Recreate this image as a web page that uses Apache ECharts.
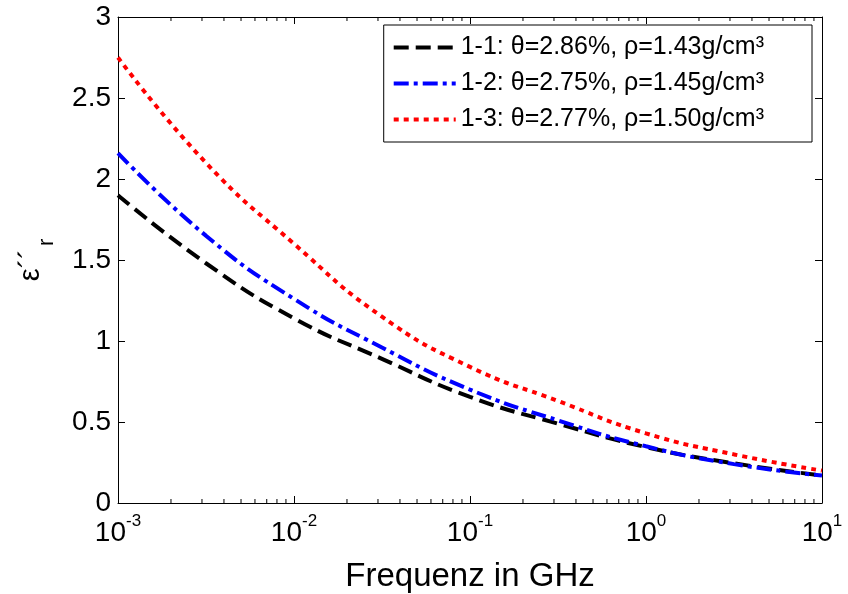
<!DOCTYPE html>
<html>
<head>
<meta charset="utf-8">
<script src="https://cdn.jsdelivr.net/npm/echarts@6/dist/echarts.min.js"></script>
<style>
  html, body { margin: 0; padding: 0; background: #fff; }
  #chart { width: 848px; height: 594px; }
</style>
</head>
<body>
<div id="chart"></div>
<script>
// frequency in GHz (log axis)
const freqs = [0.001, 0.00316, 0.01, 0.0316, 0.1, 0.316, 1, 3.16, 10];
const eps11 = [1.90, 1.48, 1.14, 0.89, 0.655, 0.49, 0.345, 0.245, 0.17];
const eps12 = [2.16, 1.65, 1.26, 0.96, 0.70, 0.51, 0.35, 0.24, 0.17];
const eps13 = [2.75, 2.10, 1.60, 1.15, 0.84, 0.63, 0.43, 0.30, 0.20];
const seriesNames = [
  '1-1: θ=2.86%, ρ=1.43g/cm³',
  '1-2: θ=2.75%, ρ=1.45g/cm³',
  '1-3: θ=2.77%, ρ=1.50g/cm³'
];
const yTicks = [0, 0.5, 1, 1.5, 2, 2.5, 3];

const font = 'Liberation Sans, Arial, sans-serif';
const pairs = (ys) => freqs.map((f, i) => [f, ys[i]]);

const chart = echarts.init(document.getElementById('chart'));

const logAxis = (show) => ({
  type: 'log',
  logBase: 10,
  min: 0.001,
  max: 10,
  axisLine: { show: true, onZero: false, lineStyle: { color: '#000', width: 1 } },
  axisTick: { show: true, inside: true, length: 7, lineStyle: { color: '#000' } },
  splitLine: { show: false },
  axisLabel: show ? {
    margin: 10,
    formatter: (v) => '{b|10}{s|' + Math.round(Math.log10(v)) + '}',
    rich: {
      b: { fontSize: 28, fontFamily: font, color: '#000', verticalAlign: 'bottom' },
      s: { fontSize: 17, fontFamily: font, color: '#000', verticalAlign: 'bottom', padding: [0, 0, 17, 0] }
    }
  } : { show: false }
});

const linAxis = (show) => ({
  type: 'value',
  min: 0,
  max: 3,
  interval: 0.5,
  axisLine: { show: true, lineStyle: { color: '#000', width: 1 } },
  axisTick: { show: true, inside: true, length: 7, lineStyle: { color: '#000' } },
  splitLine: { show: false },
  axisLabel: show ? {
    margin: 7,
    fontSize: 28,
    fontFamily: font,
    color: '#000',
    formatter: (v) => yTicks.includes(v) ? String(v) : ''
  } : { show: false }
});

const xBottom = logAxis(true);
xBottom.name = 'Frequenz in GHz';
xBottom.nameLocation = 'middle';
xBottom.nameGap = 57;
xBottom.nameTextStyle = { fontSize: 33, fontFamily: font, color: '#000' };
const xTop = logAxis(false);
xTop.position = 'top';

const yLeft = linAxis(true);
yLeft.name = '{e|ε´´}{r|r}';
yLeft.nameLocation = 'middle';
yLeft.nameGap = 60;
yLeft.nameTextStyle = {
  rich: {
    e: { fontSize: 29, fontFamily: font, color: '#000', verticalAlign: 'top' },
    r: { fontSize: 22, fontFamily: font, color: '#000', verticalAlign: 'top', padding: [20, 0, 0, 3] }
  }
};
const yRight = linAxis(false);
yRight.position = 'right';

const lineSeries = (name, ys, color, dash) => ({
  name: name,
  type: 'line',
  data: pairs(ys),
  smooth: true,
  showSymbol: false,
  symbol: 'none',
  lineStyle: { color: color, width: 4, type: dash, cap: 'butt' },
  itemStyle: { color: color },
  z: 3
});

chart.setOption({
  animation: false,
  backgroundColor: '#fff',
  grid: { left: 118, right: 26, top: 17, bottom: 91, outerBoundsMode: 'none', containLabel: false },
  legend: {
    orient: 'vertical',
    right: 36,
    top: 25,
    padding: [10, 48, 10, 8],
    itemGap: 11,
    itemWidth: 62,
    itemHeight: 25,
    borderColor: '#000',
    borderWidth: 1,
    backgroundColor: '#fff',
    itemStyle: { opacity: 0 },
    lineStyle: { width: 4 },
    textStyle: { fontSize: 25, fontFamily: font, color: '#000' },
    data: seriesNames
  },
  xAxis: [xBottom, xTop],
  yAxis: [yLeft, yRight],
  series: [
    lineSeries(seriesNames[0], eps11, '#000000', [15, 7]),
    lineSeries(seriesNames[1], eps12, '#0000ff', [15, 5, 4, 5]),
    lineSeries(seriesNames[2], eps13, '#ff0000', [5, 5])
  ]
});

// minor log ticks (2..9 per decade) on bottom and top axes, placed through the axis scale
const minor = [];
const yb = chart.convertToPixel({ yAxisIndex: 0 }, 0);
const yt = chart.convertToPixel({ yAxisIndex: 0 }, 3);
for (let d = -3; d < 1; d++) {
  for (let k = 2; k <= 9; k++) {
    const x = chart.convertToPixel({ xAxisIndex: 0 }, k * Math.pow(10, d));
    minor.push({ type: 'line', shape: { x1: x, y1: yb, x2: x, y2: yb - 4 }, style: { stroke: '#000', lineWidth: 1 } });
    minor.push({ type: 'line', shape: { x1: x, y1: yt, x2: x, y2: yt + 4 }, style: { stroke: '#000', lineWidth: 1 } });
  }
}
chart.setOption({ graphic: minor });
</script>
</body>
</html>
